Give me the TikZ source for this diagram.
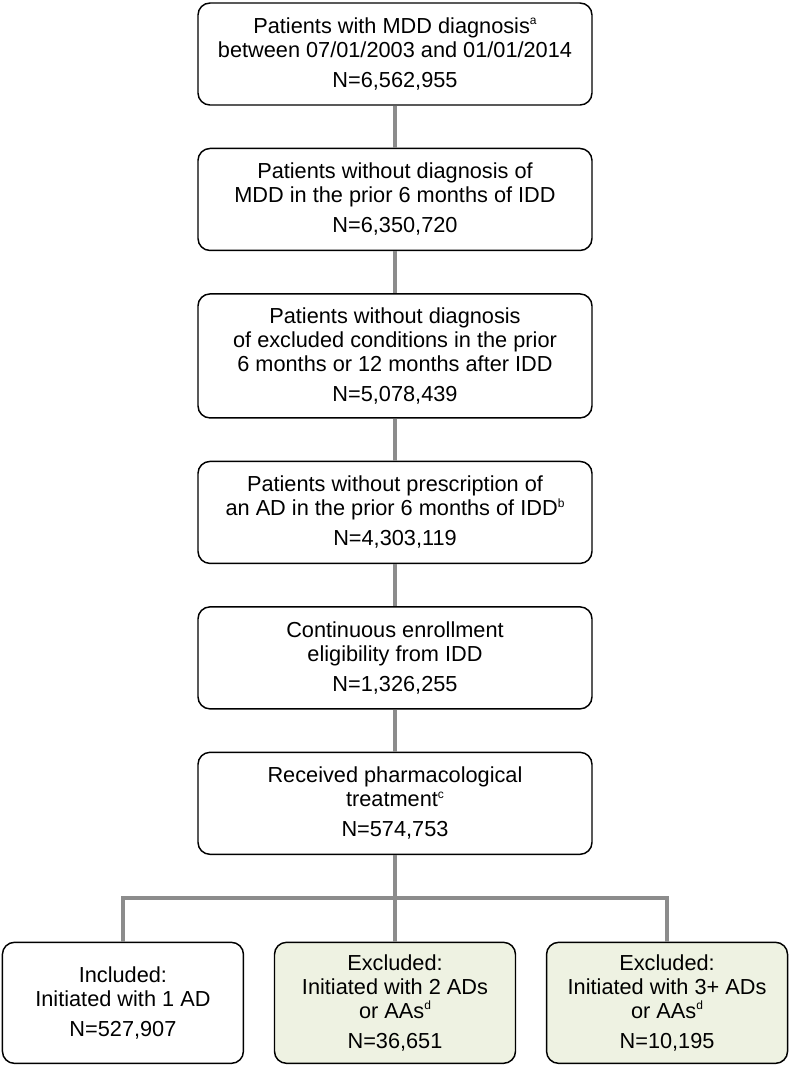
\documentclass[tikz,border=0pt]{standalone}
\usepackage{fontspec}
\setmainfont{Liberation Sans}
\usetikzlibrary{positioning}
\definecolor{linkgray}{RGB}{140,140,140}
\definecolor{exclfill}{RGB}{238,242,226}
\newcommand{\fnmark}[1]{\raisebox{0.4em}{\fontsize{9}{9}\selectfont #1}}

\begin{document}
\begin{tikzpicture}[
    stage/.style={draw, line width=1.1pt, rounded corners=9pt, minimum width=295.5pt, minimum height=76.5pt, align=center, inner sep=2pt, font=\fontsize{16.3}{18}\selectfont},
    outcome/.style={stage, minimum width=180.75pt, minimum height=90.75pt},
    link/.style={draw=linkgray, line width=3pt},
    node distance=31.5pt and 22.2pt
]
    \useasboundingbox (-296.25pt,40.5pt) rectangle (295.5pt,-758.25pt);

    % Cohort steps
    \node[stage] (mdd) {Patients with MDD diagnosis\fnmark{a}\\between 07/01/2003 and 01/01/2014\\[4.5pt]N=6,562,955};
    \node[stage, below=of mdd] (nomdd) {Patients without diagnosis of\\MDD in the prior 6 months of IDD\\[4.5pt]N=6,350,720};
    \node[stage, below=of nomdd, minimum height=93pt] (noexcl) {Patients without diagnosis\\of excluded conditions in the prior\\6 months or 12 months after IDD\\[4.5pt]N=5,078,439};
    \node[stage, below=of noexcl] (noad) {Patients without prescription of\\an AD in the prior 6 months of IDD\fnmark{b}\\[4.5pt]N=4,303,119};
    \node[stage, below=of noad] (enroll) {Continuous enrollment\\eligibility from IDD\\[4.5pt]N=1,326,255};
    \node[stage, below=of enroll] (treat) {Received pharmacological\\treatment\fnmark{c}\\[4.5pt]N=574,753};

    % Initial regimen
    \node[outcome, fill=exclfill, below=64.9pt of treat] (excl2) {Excluded:\\Initiated with 2 ADs\\or AAs\fnmark{d}\\[4.5pt]N=36,651};
    \node[outcome, left=of excl2] (incl) {Included:\\Initiated with 1 AD\\[4.5pt]N=527,907};
    \node[outcome, fill=exclfill, right=of excl2] (excl3) {Excluded:\\Initiated with 3+ ADs\\or AAs\fnmark{d}\\[4.5pt]N=10,195};

    \coordinate[below=32.5pt of treat] (split);

    \draw[link] (mdd) -- (nomdd);
    \draw[link] (nomdd) -- (noexcl);
    \draw[link] (noexcl) -- (noad);
    \draw[link] (noad) -- (enroll);
    \draw[link] (enroll) -- (treat);
    \draw[link] (treat) -- (excl2);
    \draw[link] (incl) |- (split) -| (excl3);
\end{tikzpicture}
\end{document}
